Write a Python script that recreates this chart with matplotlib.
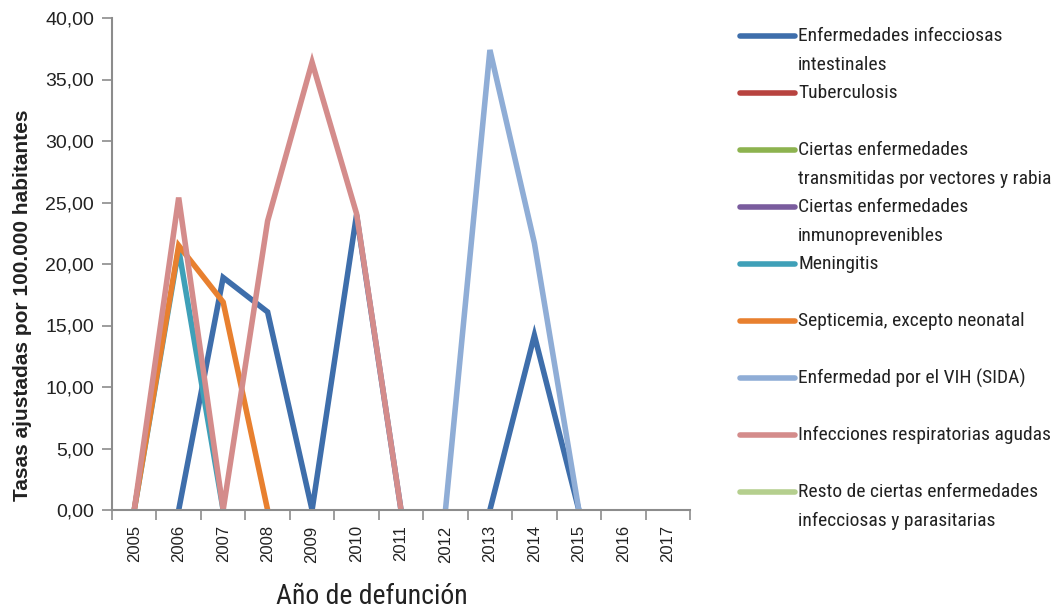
import numpy as np
import matplotlib
matplotlib.use("Agg")
import matplotlib.pyplot as plt
from matplotlib.lines import Line2D
from matplotlib.ticker import FuncFormatter, FixedLocator
from matplotlib import font_manager as fm

nan = np.nan
years = [2005, 2006, 2007, 2008, 2009, 2010, 2011, 2012, 2013, 2014, 2015, 2016, 2017]

series_names = [
    "Enfermedades infecciosas\nintestinales",
    "Tuberculosis",
    "Ciertas enfermedades\ntransmitidas por vectores y rabia",
    "Ciertas enfermedades\ninmunoprevenibles",
    "Meningitis",
    "Septicemia, excepto neonatal",
    "Enfermedad por el VIH (SIDA)",
    "Infecciones respiratorias agudas",
    "Resto de ciertas enfermedades\ninfecciosas y parasitarias",
]

intestinales = [nan, 0.0, 18.9, 16.1, 0.0, 24.0, 0.0, nan, 0.0, 14.2, 0.0, nan, nan]
tuberculosis = [nan] * 13
vectores = [nan] * 13
inmunoprevenibles = [nan] * 13
meningitis = [0.0, 21.2, 0.0, nan, nan, nan, nan, nan, nan, nan, nan, nan, nan]
septicemia = [0.0, 21.5, 16.9, 0.0, nan, nan, nan, nan, nan, nan, nan, nan, nan]
vih = [nan, nan, nan, nan, nan, nan, nan, 0.0, 37.4, 21.7, 0.0, nan, nan]
respiratorias = [0.0, 25.4, 0.0, 23.5, 36.4, 24.1, 0.0, nan, nan, nan, nan, nan, nan]
resto = [nan] * 13

series_values = [intestinales, tuberculosis, vectores, inmunoprevenibles,
                 meningitis, septicemia, vih, respiratorias, resto]

colors = ["#3E6EAB", "#B8433F", "#8DB34F", "#7A5C9E", "#3FA0B8",
          "#E8802F", "#8FADD6", "#D48C8B", "#B5CF8E"]

yticks = [0, 5, 10, 15, 20, 25, 30, 35, 40]

available = {f.name for f in fm.fontManager.ttflist}
if "Roboto Condensed" in available:
    narrow, leg_size, title_size = "Roboto Condensed", 14, 20
else:
    narrow, leg_size, title_size = "Liberation Sans", 11.5, 17
base = "Liberation Sans"

W, H = 1055, 614
fig = plt.figure(figsize=(W / 100, H / 100), dpi=100)
ax = fig.add_axes([112 / W, 1 - 510 / H, (690 - 112) / W, (510 - 18) / H])

x = np.arange(len(years))
for vals, c in zip(series_values, colors):
    ax.plot(x, vals, color=c, lw=4.0, solid_joinstyle="miter", solid_capstyle="butt")

ax.set_xlim(-0.5, len(years) - 0.5)
ax.set_ylim(0, 40)
ax.set_yticks(yticks)
ax.yaxis.set_major_formatter(FuncFormatter(lambda v, p: f"{v:.2f}".replace(".", ",")))
ax.set_xticks(x)
ax.set_xticklabels([str(y) for y in years], rotation=90, fontsize=12, family=base,
                   color="#222222")
ax.xaxis.set_minor_locator(FixedLocator(np.arange(-0.5, len(years), 1.0)))
ax.tick_params(axis="x", which="major", length=0, pad=11)
ax.tick_params(axis="x", which="minor", length=7, width=1.2, color="#8C8C8C")
ax.tick_params(axis="y", length=7, width=1.2, color="#8C8C8C", pad=6,
               labelsize=14, labelcolor="#222222")
for lab in ax.get_yticklabels():
    lab.set_family(base)
for s in ["top", "right"]:
    ax.spines[s].set_visible(False)
for s in ["left", "bottom"]:
    ax.spines[s].set_color("#8C8C8C")
    ax.spines[s].set_linewidth(1.5)

fig.text(23 / W, 1 - 305 / H, "Tasas ajustadas por 100.000 habitantes", rotation=90,
         ha="center", va="center", fontsize=15, fontweight="bold", family=base,
         color="#222222")
fig.text(372 / W, 1 - 597 / H, "Año de defunción", ha="center", va="center",
         fontsize=title_size, family=narrow, color="#222222")

# legend
for i, (name, c) in enumerate(zip(series_names, colors)):
    yy = 1 - (36 + 57 * i) / H
    fig.add_artist(Line2D([740 / W, 795 / W], [yy, yy], color=c, lw=4.0,
                          solid_capstyle="round", transform=fig.transFigure))
    lines = name.split("\n")
    for k, ln in enumerate(lines):
        fig.text(798 / W, yy - k * 29 / H, ln, ha="left", va="center",
                 fontsize=leg_size, family=narrow, color="#222222")

fig.savefig("out.png", dpi=100)
